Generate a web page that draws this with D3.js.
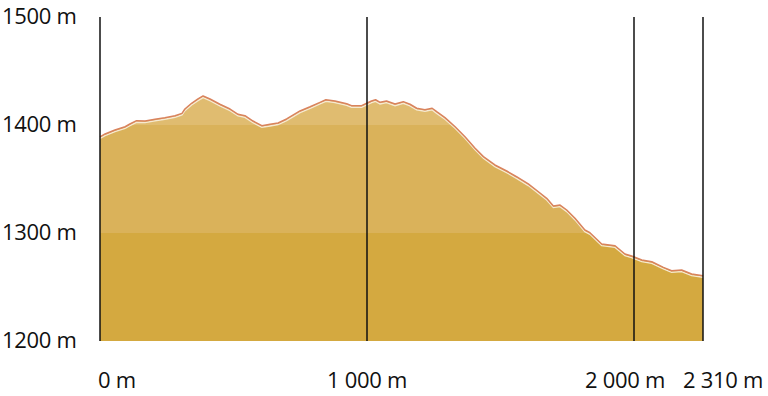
<!DOCTYPE html>
<html>
<head>
<meta charset="utf-8">
<script src="https://cdn.jsdelivr.net/npm/d3@7"></script>
<style>
  html, body { margin: 0; padding: 0; background: #fff; }
  svg text { font-family: "Open Sans", sans-serif; fill: #111; }
</style>
</head>
<body>
<svg id="chart" width="768" height="396"></svg>
<script>
// distance along the route (m)
const distance = [0, 19, 56, 94, 112, 137, 169, 206, 243, 281, 307, 318, 343, 367, 386, 412,
  449, 487, 517, 543, 573, 606, 637, 667, 699, 749, 787, 824, 846, 880, 924, 942, 980, 999,
  1017, 1032, 1049, 1073, 1105, 1136, 1161, 1186, 1217, 1244, 1261, 1292, 1330, 1367, 1404,
  1436, 1479, 1523, 1560, 1604, 1642, 1673, 1698, 1723, 1748, 1779, 1816, 1835, 1879, 1929,
  1966, 1991, 2035, 2080, 2132, 2169, 2214, 2259, 2310];
// elevation (m)
const elevation = [1389, 1391.7, 1395.4, 1398.4, 1400.9, 1404, 1403.7, 1405.3, 1406.8, 1408.6,
  1410.8, 1414.8, 1420.1, 1424.1, 1426.9, 1424.1, 1419.2, 1414.8, 1409.9, 1408.6, 1403.7,
  1399.4, 1400.6, 1401.9, 1405.6, 1413, 1416.9, 1421, 1423.4, 1422.2, 1419.7, 1417.9, 1417.9,
  1420.1, 1422.2, 1423.4, 1421, 1422.2, 1419.4, 1421.6, 1419.2, 1415.5, 1414.2, 1415.5, 1412.3,
  1406.8, 1398.4, 1389.2, 1378.7, 1370.7, 1363, 1357.4, 1352.1, 1345.4, 1338.2, 1332.1, 1325,
  1325.9, 1321.3, 1313.6, 1302.8, 1300.3, 1289.8, 1288.2, 1280.6, 1278.7, 1275, 1273.4, 1268.2,
  1265.1, 1265.7, 1262, 1260.5];

const xTicks = [0, 1000, 2000, 2310];
const xTickLabels = ["0 m", "1 000 m", "2 000 m", "2 310 m"];
const yTicks = [1200, 1300, 1400, 1500];
const yTickLabels = ["1200 m", "1300 m", "1400 m", "1500 m"];
const bandColors = ["#d4a940", "#dab25a", "#e0bc70"];

const data = distance.map((d, i) => ({ d, e: elevation[i] }));

const svg = d3.select("#chart");
const plotLeft = 100, plotTop = 17, plotBottom = 341;

// piecewise scale reproducing the gridline spacing of the original
const x = d3.scaleLinear()
  .domain(xTicks)
  .range([plotLeft, plotLeft + 267, plotLeft + 534, plotLeft + 603]);
const y = d3.scaleLinear().domain([1200, 1500]).range([plotBottom, plotTop]);

const area = d3.area().x(p => x(p.d)).y0(y(1200)).y1(p => y(p.e));
const line = d3.line().x(p => x(p.d)).y(p => y(p.e));

svg.append("clipPath").attr("id", "profileClip")
  .append("path").datum(data).attr("d", area);

const bands = svg.append("g").attr("clip-path", "url(#profileClip)");
bands.selectAll("rect")
  .data(d3.range(yTicks.length - 1))
  .join("rect")
  .attr("x", x(0))
  .attr("width", x(2310) - x(0))
  .attr("y", i => y(yTicks[i + 1]))
  .attr("height", i => y(yTicks[i]) - y(yTicks[i + 1]))
  .attr("fill", i => bandColors[i]);

// light inner edge
svg.append("path").datum(data)
  .attr("d", line)
  .attr("transform", "translate(0,1.6)")
  .attr("fill", "none")
  .attr("stroke", "#f6ead2")
  .attr("stroke-width", 1.4);

// profile outline
svg.append("path").datum(data)
  .attr("d", line)
  .attr("fill", "none")
  .attr("stroke", "#d9835e")
  .attr("stroke-width", 1.5)
  .attr("stroke-linejoin", "round");

// vertical gridlines
svg.selectAll("line.v")
  .data(xTicks)
  .join("line")
  .attr("class", "v")
  .attr("x1", d => x(d)).attr("x2", d => x(d))
  .attr("y1", y(1500)).attr("y2", y(1200))
  .attr("stroke", "#111")
  .attr("stroke-width", 1.5);

// y labels
svg.selectAll("text.yl")
  .data(yTicks)
  .join("text")
  .attr("class", "yl")
  .attr("x", 2)
  .attr("y", d => y(d) + 7)
  .attr("font-size", 22)
  .attr("letter-spacing", -0.3)
  .text((d, i) => yTickLabels[i]);

// x labels
const xdx = [17, 0, -9, 20];
svg.selectAll("text.xl")
  .data(xTicks)
  .join("text")
  .attr("class", "xl")
  .attr("x", (d, i) => x(d) + xdx[i])
  .attr("y", 388)
  .attr("text-anchor", "middle")
  .attr("font-size", 22)
  .attr("letter-spacing", -0.3)
  .text((d, i) => xTickLabels[i]);
</script>
</body>
</html>
